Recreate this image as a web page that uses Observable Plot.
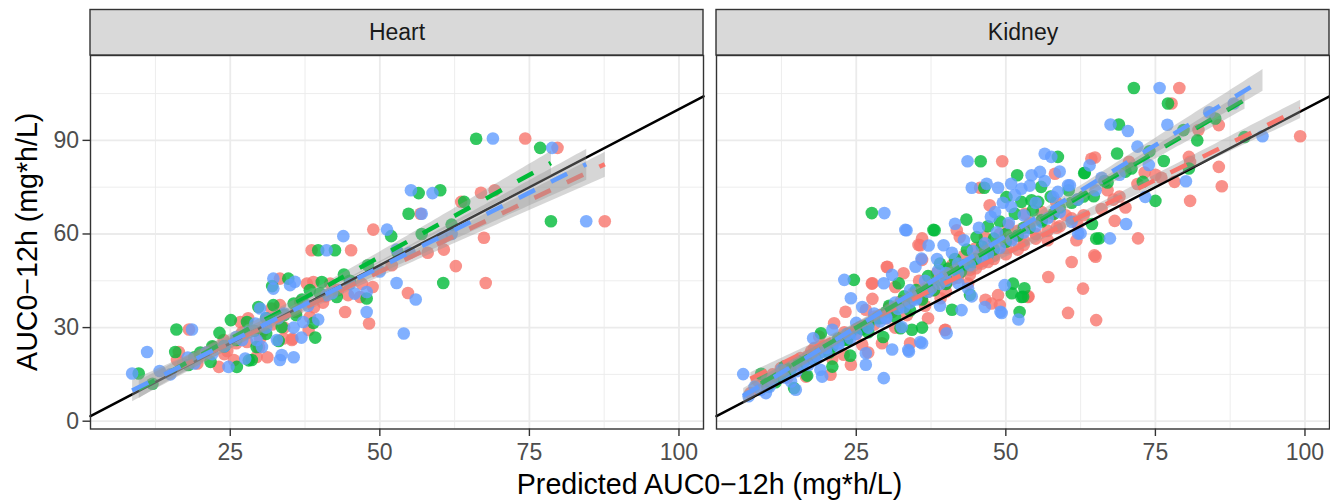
<!DOCTYPE html>
<html><head><meta charset="utf-8">
<script src="https://cdn.jsdelivr.net/npm/d3@7"></script>
<script src="https://cdn.jsdelivr.net/npm/@observablehq/plot@0.6"></script>
<style>body{margin:0;background:#fff}#chart svg{display:block}</style>
</head><body><div id="chart"></div>
<script>
const panels = ["Heart", "Kidney"];
const groups = ["A", "B", "C"];
const groupColors = ["#F8766D", "#00BA38", "#619CFF"];

const heartRed = [[16.4,22.2],[16.1,19.6],[18.1,29.4],[19.5,18.5],[20.0,21.0],[21.0,22.0],[22.2,23.8],[23.1,17.4],[23.9,26.0],[24.0,21.5],[24.5,22.5],[25.6,19.6],[26.0,25.0],[26.7,31.8],[27.0,28.5],[27.8,25.4],[28.0,33.0],[29.4,20.6],[29.8,23.7],[30.0,26.5],[30.5,29.0],[31.2,20.5],[31.9,36.1],[32.0,31.0],[33.3,37.2],[33.3,45.7],[33.9,26.5],[34.0,30.0],[35.3,26.0],[35.4,26.4],[36.0,35.0],[36.7,38.2],[37.8,44.1],[38.1,29.2],[38.3,33.4],[38.6,54.8],[38.9,44.6],[39.0,36.5],[40.5,38.0],[41.0,40.0],[41.7,44.1],[43.0,42.0],[44.2,35.0],[44.7,40.4],[45.2,54.8],[46.7,39.8],[47.0,44.0],[48.2,31.3],[48.8,43.0],[48.9,61.4],[52.0,50.0],[54.7,41.1],[56.8,66.5],[58.0,54.0],[60.7,55.0],[62.7,49.7],[63.6,70.3],[66.9,73.2],[67.4,58.8],[67.7,44.3],[69.2,74.0],[74.3,90.6],[79.7,87.6],[87.6,64.1]];
const heartGreen = [[9.7,15.3],[12.0,12.0],[15.8,22.2],[16.0,29.4],[18.0,18.0],[19.0,20.5],[20.0,22.0],[21.7,19.0],[22.0,24.0],[23.2,28.3],[24.0,24.0],[25.1,32.4],[26.0,26.0],[26.1,17.4],[27.8,31.8],[28.1,19.5],[28.6,19.6],[29.0,29.0],[29.4,23.8],[29.7,36.6],[31.0,28.0],[31.0,33.0],[32.0,43.3],[32.2,37.2],[33.1,25.7],[33.6,30.2],[34.0,34.0],[34.7,45.7],[35.6,37.7],[36.0,34.0],[37.0,39.0],[38.3,42.0],[38.9,31.5],[39.2,26.8],[39.7,54.8],[40.0,41.0],[40.3,44.6],[42.5,54.8],[42.8,39.8],[44.0,47.0],[45.0,45.0],[47.8,39.3],[48.0,50.0],[51.9,59.3],[53.0,54.0],[54.8,66.5],[56.5,73.1],[57.0,60.0],[60.1,74.0],[60.6,44.3],[62.0,63.0],[64.1,70.3],[66.1,90.5],[76.8,87.6],[78.6,64.1]];
const heartBlue = [[8.6,15.3],[11.1,22.2],[13.2,16.1],[15.0,15.0],[17.9,20.4],[18.6,29.4],[19.0,18.5],[21.0,22.0],[22.0,21.5],[24.0,24.0],[24.7,17.4],[26.0,27.0],[27.0,26.0],[27.5,20.1],[28.0,28.5],[29.2,31.3],[29.4,26.0],[30.0,36.1],[30.3,23.8],[31.0,33.0],[31.0,30.0],[32.2,45.7],[32.2,42.5],[32.8,26.0],[33.0,33.0],[33.3,19.6],[33.6,21.2],[34.0,34.5],[35.0,43.6],[35.6,20.5],[35.6,30.0],[35.8,44.7],[36.9,26.8],[37.2,31.8],[38.0,37.0],[39.7,32.6],[41.1,40.4],[41.1,54.8],[42.0,41.0],[43.9,59.3],[45.0,44.0],[45.8,40.9],[47.8,41.4],[47.8,35.0],[50.0,48.0],[51.2,61.4],[52.8,44.3],[52.8,55.0],[54.0,28.1],[55.0,54.0],[55.2,74.0],[56.0,39.0],[57.0,66.5],[58.8,73.1],[60.4,58.8],[62.0,60.0],[68.9,90.6],[78.8,87.6],[84.5,64.1]];

const kidneyRed = [[7.3,9.0],[8.5,13.0],[9.3,14.3],[10.5,12.0],[11.0,15.0],[12.4,17.0],[13.0,17.5],[13.5,14.0],[14.5,18.5],[15.0,18.0],[15.7,20.2],[16.6,14.3],[17.0,21.0],[17.5,22.5],[18.0,23.5],[18.8,27.1],[19.5,24.0],[20.0,24.0],[20.7,14.9],[21.0,20.0],[21.3,31.4],[22.0,26.0],[22.9,21.3],[23.0,28.5],[23.2,35.1],[23.5,27.0],[24.1,18.1],[25.0,29.5],[25.0,28.0],[26.0,24.5],[26.0,30.5],[26.6,35.7],[27.0,22.0],[27.6,44.1],[27.7,44.2],[27.7,39.2],[28.0,31.0],[28.0,33.5],[29.0,34.0],[29.3,25.0],[30.0,33.0],[30.1,49.4],[30.2,49.5],[30.5,36.5],[31.0,35.0],[31.5,30.0],[31.5,43.0],[32.5,38.5],[32.9,47.4],[33.0,37.0],[33.5,34.0],[34.0,25.0],[34.0,38.5],[34.5,41.0],[35.4,56.5],[35.5,45.0],[35.7,56.4],[36.0,58.6],[36.0,51.7],[36.0,40.0],[36.5,37.0],[37.0,33.0],[37.0,41.5],[37.5,43.0],[38.0,42.0],[38.5,47.5],[39.1,39.4],[39.8,29.2],[39.9,29.3],[40.0,41.5],[40.0,44.0],[41.0,50.0],[41.0,45.5],[41.8,61.2],[42.0,46.0],[42.0,47.0],[42.3,59.0],[43.0,53.0],[43.7,44.1],[44.0,48.5],[44.0,47.0],[45.0,55.5],[45.0,49.0],[45.7,74.8],[46.0,50.5],[46.5,59.0],[46.6,38.9],[47.0,56.0],[47.0,51.0],[47.3,69.2],[47.6,37.7],[48.0,52.0],[48.0,53.0],[48.7,40.4],[49.0,37.2],[49.0,60.0],[49.4,83.3],[50.0,55.5],[50.0,53.5],[50.4,62.8],[51.0,58.5],[52.0,61.0],[52.0,55.0],[53.0,56.5],[53.0,58.0],[53.2,66.5],[53.7,39.8],[53.8,40.0],[54.0,63.5],[55.0,60.0],[55.0,58.5],[56.0,67.0],[57.0,58.0],[57.0,61.0],[57.1,46.2],[57.5,65.5],[58.2,79.3],[58.4,70.3],[58.5,62.0],[59.0,62.5],[60.0,66.0],[60.4,34.7],[61.0,51.0],[61.0,65.0],[61.8,58.0],[62.0,63.0],[62.9,42.5],[63.0,66.0],[64.3,84.1],[64.8,53.2],[64.9,84.5],[65.0,52.7],[65.1,32.4],[66.0,68.0],[67.0,74.0],[68.0,71.0],[68.2,64.2],[69.0,72.0],[70.0,68.5],[70.6,83.1],[72.0,76.0],[72.1,58.6],[73.2,79.7],[75.0,79.0],[76.0,78.0],[77.7,101.8],[78.2,76.7],[79.0,106.8],[80.6,84.7],[80.8,83.1],[80.8,70.6],[82.2,93.3],[85.6,94.9],[85.6,81.5],[86.1,75.3],[99.2,91.3]];
const kidneyGreen = [[9.1,15.2],[10.0,12.0],[10.2,11.1],[11.5,12.5],[12.0,14.0],[13.0,17.5],[13.0,15.0],[14.0,16.5],[14.6,10.6],[15.5,19.0],[16.0,18.0],[16.8,14.6],[17.5,20.0],[18.0,20.5],[19.0,22.0],[19.1,28.2],[20.5,22.0],[21.0,17.5],[21.0,24.0],[22.0,26.5],[23.0,26.0],[23.5,26.1],[24.0,21.0],[24.0,28.0],[24.6,45.3],[25.5,30.0],[26.0,29.5],[27.0,28.5],[27.0,31.0],[27.6,66.7],[28.5,33.0],[29.0,33.0],[29.5,27.0],[30.0,35.0],[30.5,37.0],[31.5,33.5],[32.0,36.5],[32.1,44.2],[32.4,29.8],[33.0,40.0],[33.0,38.0],[34.0,35.5],[34.3,29.3],[35.0,42.0],[35.0,40.0],[36.0,39.0],[36.0,30.0],[37.0,46.5],[37.0,42.5],[37.9,61.3],[38.0,42.0],[38.0,44.0],[38.1,61.2],[39.0,50.5],[40.0,44.0],[40.0,45.5],[40.4,48.9],[41.0,35.7],[41.5,52.0],[42.0,48.0],[42.5,48.0],[43.0,50.0],[43.4,64.6],[43.5,55.0],[44.0,40.5],[44.5,51.0],[45.0,52.0],[45.1,59.0],[45.8,83.3],[46.0,56.0],[46.4,74.8],[47.0,62.5],[47.0,53.5],[48.0,58.5],[48.0,55.0],[49.0,64.0],[50.0,60.0],[50.0,57.5],[50.1,71.8],[51.0,41.0],[51.2,44.1],[51.5,66.5],[51.9,78.8],[52.0,59.5],[52.3,35.0],[52.6,39.8],[52.6,70.3],[52.9,39.9],[53.0,62.0],[53.1,42.6],[54.0,62.0],[54.3,70.8],[54.5,67.5],[55.4,70.3],[55.9,75.1],[56.0,64.5],[56.0,64.0],[57.5,72.0],[58.0,66.5],[58.7,84.7],[59.0,68.5],[60.5,74.0],[61.0,70.0],[62.0,71.0],[63.0,72.0],[63.1,79.5],[63.2,79.6],[64.4,63.2],[64.7,72.1],[65.1,58.5],[65.6,58.6],[66.5,77.0],[67.0,76.5],[68.6,85.8],[68.9,95.1],[70.0,80.0],[71.0,81.0],[71.4,106.8],[72.9,76.7],[74.0,86.5],[75.0,70.6],[76.4,83.4],[77.1,101.8],[79.7,93.3],[80.6,81.0],[82.0,90.0],[85.0,97.0],[89.9,91.1]];
const kidneyBlue = [[6.1,15.1],[7.0,8.0],[8.0,11.0],[9.0,10.0],[9.9,9.0],[10.5,11.0],[11.0,13.0],[12.5,16.5],[13.0,14.0],[14.1,12.7],[14.9,10.1],[15.0,16.0],[16.0,18.0],[17.0,18.0],[17.8,26.6],[18.0,20.0],[18.5,21.0],[19.0,16.5],[19.3,14.3],[20.0,23.5],[20.0,22.0],[21.0,29.3],[22.0,25.0],[22.0,24.0],[23.0,45.3],[23.5,28.0],[24.0,26.5],[24.1,39.4],[25.0,31.5],[25.0,28.0],[26.0,36.6],[26.6,18.1],[26.6,21.8],[27.0,30.0],[28.0,34.5],[29.0,32.0],[29.6,44.2],[29.6,13.8],[29.7,66.7],[30.0,33.0],[30.0,33.5],[31.0,46.9],[31.0,23.0],[31.5,38.0],[32.0,36.0],[32.6,30.2],[33.0,36.5],[33.2,61.3],[33.4,61.2],[33.7,22.8],[33.8,22.3],[34.0,42.0],[34.0,38.0],[34.9,49.5],[35.0,39.0],[35.0,39.5],[35.7,25.4],[35.9,52.1],[36.0,25.0],[36.5,45.0],[37.0,41.5],[37.1,56.3],[37.5,42.5],[38.5,52.0],[38.7,48.4],[39.0,37.0],[39.0,44.0],[39.6,56.4],[40.0,47.5],[40.0,45.0],[40.1,28.2],[41.0,54.0],[41.5,63.3],[42.0,50.5],[42.0,47.5],[42.1,44.1],[42.6,35.6],[43.0,58.0],[43.6,83.3],[43.7,42.5],[44.0,50.0],[44.3,74.8],[44.3,40.0],[44.5,54.5],[45.5,62.0],[46.0,52.0],[46.5,36.6],[46.5,57.0],[46.8,76.1],[47.0,53.5],[47.5,65.5],[48.2,67.0],[48.5,60.5],[48.7,74.8],[49.0,55.5],[49.1,35.1],[49.3,34.7],[49.5,70.0],[49.8,43.6],[50.5,63.5],[50.9,76.1],[50.9,68.7],[51.0,58.0],[51.5,72.5],[52.1,32.6],[52.6,74.5],[53.0,66.0],[53.0,60.5],[54.0,75.5],[54.3,78.8],[55.0,70.0],[55.0,62.5],[55.7,79.9],[56.5,85.7],[56.5,77.0],[57.0,65.0],[57.6,84.7],[57.9,71.9],[58.7,73.5],[59.0,80.0],[59.0,67.0],[60.4,75.6],[60.7,75.6],[61.0,63.9],[62.0,71.0],[62.1,60.1],[62.5,60.2],[64.0,82.0],[65.0,74.0],[66.0,78.0],[67.4,58.6],[67.5,95.1],[69.0,79.0],[70.1,63.2],[70.4,93.0],[72.0,88.0],[73.3,71.9],[73.9,82.1],[75.7,106.8],[77.0,95.0],[80.1,76.9],[84.0,99.0],[88.1,101.8],[92.9,91.3]];

const xTicks = [25, 50, 75, 100];
const xMinor = [12.5, 37.5, 62.5, 87.5];
const yTicks = [0, 30, 60, 90];
const yMinor = [15, 45, 75, 105];
const xDomain = [1.64, 104.1];
const yDomain = [-2.5, 117.2];
const xTitle = "Predicted AUC0\u221212h (mg*h/L)";
const yTitle = "AUC0\u221212h (mg*h/L)";

const series = [
  ["Heart", "A", heartRed], ["Heart", "B", heartGreen], ["Heart", "C", heartBlue],
  ["Kidney", "A", kidneyRed], ["Kidney", "B", kidneyGreen], ["Kidney", "C", kidneyBlue]
];
const rows = series.flatMap(([panel, group, pts]) => pts.map(([x, y]) => ({panel, group, x, y})));
const strips = panels.map(p => ({panel: p}));

const W = 1330, H = 500, mL = 90, mR = 1, mT = 55, mB = 71.5;
const ppu = (H - mT - mB) / (yDomain[1] - yDomain[0]);
const stripTop = yDomain[1] + 45.5 / ppu;
const stripMid = yDomain[1] + 22.75 / ppu;
const font = "'Liberation Sans', Arial, Helvetica, sans-serif";

const chart = Plot.plot({
  width: W, height: H,
  marginLeft: mL, marginRight: mR, marginTop: mT, marginBottom: mB,
  style: {fontFamily: font, fontSize: "23px", background: "#fff", overflow: "visible"},
  fx: {domain: panels, paddingInner: 0.0208, paddingOuter: 0, axis: null, label: null},
  x: {domain: xDomain, label: null},
  y: {domain: yDomain, label: null},
  color: {domain: groups, range: groupColors},
  marks: [
    Plot.ruleX(xMinor, {stroke: "#EBEBEB", strokeWidth: 0.9}),
    Plot.ruleY(yMinor, {stroke: "#EBEBEB", strokeWidth: 0.9}),
    Plot.ruleX(xTicks, {stroke: "#EBEBEB", strokeWidth: 1.8}),
    Plot.ruleY(yTicks, {stroke: "#EBEBEB", strokeWidth: 1.8}),
    Plot.dot(rows, {x: "x", y: "y", fx: "panel", fill: "group", r: 6.3, fillOpacity: 0.8, stroke: "none"}),
    Plot.line(xDomain, {x: d => d, y: d => d, stroke: "#000", strokeWidth: 2.5}),
    Plot.linearRegressionY(rows, {x: "x", y: "y", fx: "panel", stroke: "group", fill: "#999999", fillOpacity: 0.4,
      strokeWidth: 4.5, strokeDasharray: "18,18", strokeLinecap: "butt", ci: 0.8}),
    Plot.frame({stroke: "#333333", strokeWidth: 1.4}),
    Plot.rect(strips, {fx: "panel", x1: xDomain[0], x2: xDomain[1], y1: yDomain[1], y2: stripTop,
      fill: "#D9D9D9", stroke: "#333333", strokeWidth: 1.4}),
    Plot.text(strips, {fx: "panel", x: (xDomain[0] + xDomain[1]) / 2, y: stripMid, text: "panel",
      fill: "#1A1A1A", fontSize: 23, lineAnchor: "middle"}),
    Plot.axisX({ticks: xTicks, tickSize: 7.5, tickPadding: 7, fontSize: 23, stroke: "#333333", fill: "#4D4D4D", strokeWidth: 1.4, label: null}),
    Plot.axisY({ticks: yTicks, tickSize: 7.5, tickPadding: 4, fontSize: 23, stroke: "#333333", fill: "#4D4D4D", strokeWidth: 1.4, label: null})
  ]
});

document.getElementById("chart").appendChild(chart);
const svg = d3.select(chart);
svg.append("text").attr("x", (mL + W - mR) / 2).attr("y", 494)
  .attr("text-anchor", "middle").attr("font-size", 28.6).attr("fill", "#000")
  .attr("font-family", font).text(xTitle);
svg.append("text").attr("transform", `translate(37,${(mT + H - mB) / 2}) rotate(-90)`)
  .attr("text-anchor", "middle").attr("font-size", 28.6).attr("fill", "#000")
  .attr("font-family", font).text(yTitle);
</script>
</body></html>
